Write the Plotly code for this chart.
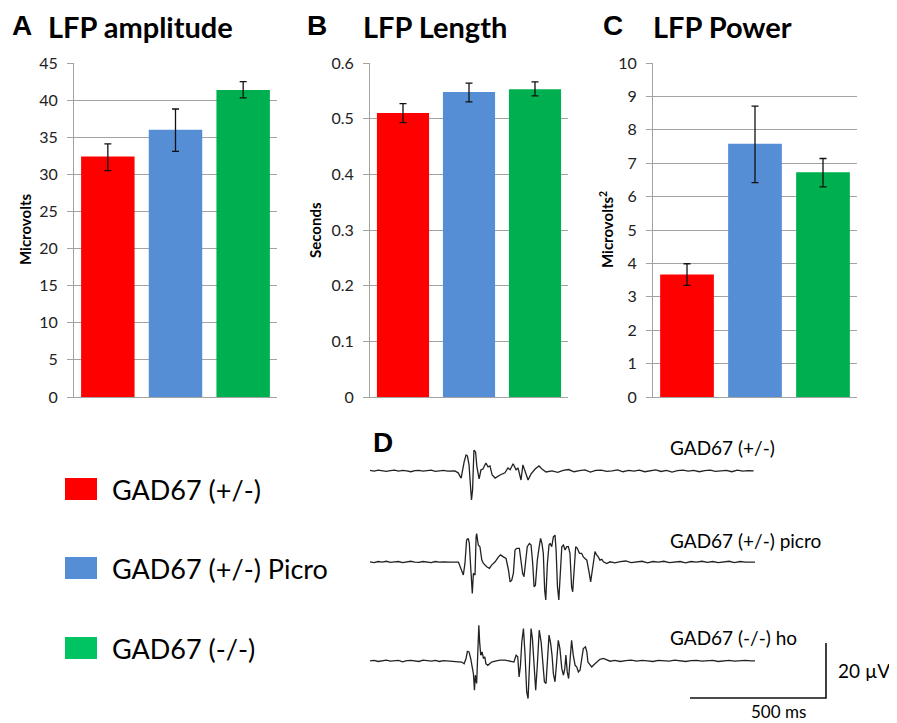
import plotly.graph_objects as go

# ---------------- data ----------------
groups = ["GAD67 (+/-)", "GAD67 (+/-) Picro", "GAD67 (-/-)"]
bar_colors = ["#FF0000", "#558ED5", "#00B050"]
legend_colors = ["#FF0000", "#558ED5", "#00C462"]

amp_vals = [32.4, 36.0, 41.35]
amp_err_plus = [1.7, 2.8, 1.15]
amp_err_minus = [1.9, 2.9, 1.05]

len_vals = [0.510, 0.548, 0.553]
len_err_plus = [0.017, 0.016, 0.013]
len_err_minus = [0.017, 0.018, 0.012]

pow_vals = [3.67, 7.58, 6.73]
pow_err_plus = [0.32, 1.13, 0.41]
pow_err_minus = [0.33, 1.16, 0.44]

amp_ticks = [0, 5, 10, 15, 20, 25, 30, 35, 40, 45]
len_ticks = [0, 0.1, 0.2, 0.3, 0.4, 0.5, 0.6]
len_tick_text = ["0", "0.1", "0.2", "0.3", "0.4", "0.5", "0.6"]
pow_ticks = [0, 1, 2, 3, 4, 5, 6, 7, 8, 9, 10]

# LFP example traces (time in ms, voltage in microvolts)
trace_labels = ["GAD67 (+/-)", "GAD67 (+/-) picro", "GAD67 (-/-) ho"]

het_t = [0, 15, 30, 45, 60, 75, 90, 105, 120, 135, 150, 165, 180, 195, 210, 225, 240, 255, 270, 285, 300,
         312, 324, 335, 346, 353, 358, 364, 368, 373, 377, 382, 388, 393, 401, 408, 415, 426, 434, 441, 449,
         460, 478, 496, 507, 515, 526, 537, 544, 555, 562, 573, 581, 592, 607, 621, 632, 647, 669,
         690, 710, 730, 750, 770, 790, 810, 830, 850, 870, 890, 910, 930, 950, 970, 990, 1010, 1030, 1050,
         1070, 1090, 1110, 1130, 1150, 1170, 1190, 1210, 1230, 1250, 1270, 1290, 1310, 1330, 1350, 1370,
         1390, 1410]
het_v = [0.2, -0.1, 0.3, 0.0, -0.2, 0.1, 0.3, -0.1, 0.2, 0.0, -0.3, 0.1, 0.2, -0.1, 0.0, 0.3, -0.2, 0.1, 0.2, -0.1, 0.0,
         0.0, -0.7, -2.6, 3.3, 5.8, 5.5, 2.2, -3.6, -10.6, -6.9, 7.6, 6.9, 1.5, -2.9, 0.4, 0.7, 2.9, 1.5, 1.8, -1.5,
         -2.6, -1.5, -0.7, 1.1, 0.4, 2.6, 0.4, 1.1, -3.3, 2.2, -0.7, -3.3, -1.1, 0.7, 1.8, 0.7, -0.4, 0.0,
         -0.5, 0.2, 0.5, -0.3, 0.1, 0.4, -0.4, 0.2, 0.3, -0.2, 0.0, 0.4, -0.3, 0.2, -0.1, 0.3, -0.3, 0.1, 0.4,
         -0.2, 0.2, -0.4, 0.1, 0.3, -0.1, 0.2, -0.3, 0.1, 0.3, -0.2, 0.0, 0.2, -0.3, 0.3, -0.1,
         0.1, 0.0]

picro_t = [0, 15, 30, 45, 60, 75, 90, 105, 120, 135, 150, 165, 180, 195, 210, 225, 240, 255, 270, 285, 294,
           325, 337, 343, 349, 355, 361, 365, 370, 376, 380, 386, 390, 392, 398, 404, 411, 417, 429, 439, 447,
           460, 472, 480, 490, 500, 509, 515, 521, 527, 533, 539, 549, 554, 561, 566, 573, 578, 586, 592,
           598, 603, 608, 615, 622, 627, 632, 637, 642, 646, 652, 658, 662, 668, 674, 680, 684, 689, 694,
           698, 705, 711, 717, 723, 729, 735, 741, 745, 750, 756, 762, 770, 778, 784, 790, 797, 806, 811,
           819, 827, 833, 839, 845, 852, 858, 870, 882,
           900, 920, 940, 960, 980, 1000, 1020, 1040, 1060, 1080, 1100, 1120, 1140, 1160, 1180, 1200, 1220,
           1240, 1260, 1280, 1300, 1320, 1340, 1360, 1380, 1400, 1415]
picro_v = [0.1, -0.2, 0.2, 0.0, 0.3, -0.1, 0.1, 0.2, -0.2, 0.1, 0.3, 0.0, -0.1, 0.2, 0.1, -0.2, 0.2, 0.0, 0.1, -0.1, 0.0,
           0.0, -2.9, -4.7, -0.5, 8.0, 8.6, 6.8, -1.7, -11.4, -4.1, -4.7, 9.2, 10.4, 6.2, 5.6, 0.7, -0.5, -1.7, -2.3, -1.1,
           0.1, 1.9, 2.6, 1.9, 1.3, -2.9, -7.2, -6.6, -4.1, 4.4, 5.0, 5.0, 1.9, -4.1, -5.3, 1.9, 5.6, 6.8, 6.2,
           -0.5, -9.0, -8.4, 0.7, 5.6, 8.6, 6.8, 3.2, -10.2, -13.8, -0.5, 6.2, 6.8, 5.6, 9.2, 9.8, 4.4, -9.0, -13.8,
           -5.9, 5.6, 6.2, 4.4, 5.6, 5.6, 3.2, -9.0, -10.8, -4.1, 5.6, 5.0, 3.2, 3.2, 1.9, 1.3, 0.7, -4.1, -7.2,
           -1.7, 3.8, 2.6, 1.9, 0.7, 1.0, 0.1, -0.5, 0.1,
           -0.3, 0.2, 0.4, -0.2, 0.1, 0.3, -0.3, 0.2, 0.0, 0.3, -0.2, 0.1, 0.2, -0.3, 0.2, 0.0, 0.3,
           -0.1, 0.2, -0.2, 0.1, 0.3, -0.2, 0.2, 0.0, 0.1, 0.0]

homo_t = [0, 15, 30, 45, 60, 75, 90, 105, 120, 135, 150, 165, 180, 195, 210, 225, 240, 255, 270, 285, 294,
          337, 346, 353, 358, 364, 370, 375, 380, 384, 387, 392, 396, 400, 403, 407, 412, 417, 422, 426, 433,
          439, 447, 460, 478, 496, 515, 529, 537, 543, 548, 553, 558, 564, 570, 576, 581, 586, 592, 597,
          603, 609, 615, 622, 629, 635, 641, 647, 652, 658, 664, 669, 674, 680, 686, 692, 698, 705, 711,
          716, 720, 725, 730, 735, 741, 747, 754, 760, 766, 772, 778, 784, 792, 797, 801, 809, 815, 821,
          833, 845, 858, 870, 882,
          900, 920, 940, 960, 980, 1000, 1020, 1040, 1060, 1080, 1100, 1120, 1140, 1160, 1180, 1200, 1220,
          1240, 1260, 1280, 1300, 1320, 1340, 1360, 1380, 1400, 1415]
homo_v = [0.0, 0.2, -0.2, 0.1, 0.3, -0.1, 0.0, 0.2, -0.3, 0.1, 0.2, 0.0, -0.2, 0.3, 0.1, -0.1, 0.2, -0.2, 0.1, 0.0, -0.1,
          -0.4, -1.0, 0.9, 3.5, 3.3, 0.9, -1.6, -4.6, -10.7, -5.2, -8.2, 4.5, 13.0, 6.9, 2.1, 3.3, 0.9, 1.5, -1.0, -1.6,
          -1.0, -0.4, -0.1, 0.3, 0.3, -0.1, -0.4, 2.1, 1.5, -5.8, -1.6, 6.9, 11.8, 2.1, -11.3, -13.7, -1.6, 11.8, 8.1,
          -4.0, -10.7, -1.6, 11.2, 6.9, -1.6, -7.6, -8.2, 0.9, 9.4, 6.3, 2.1, -4.6, -7.6, -0.4, 7.5, 4.5, -2.8, -5.2,
          -2.8, 2.1, -4.0, -6.4, 0.9, 7.5, 2.1, -1.6, -2.2, -4.0, -3.4, 0.9, 4.5, 5.1, 3.3, -0.4, -1.6, -2.2, -1.6,
          -0.4, 0.6, 0.9, 0.3, -0.1,
          0.2, -0.2, 0.1, 0.3, -0.1, 0.2, 0.0, -0.2, 0.2, 0.1, -0.1, 0.3, 0.0, -0.2, 0.1, 0.2, -0.1,
          0.1, 0.2, -0.2, 0.0, 0.2, -0.1, 0.1, 0.2, 0.0, 0.0]

scale_ms = 500
scale_uv = 20

# ---------------- layout helpers ----------------
# the page body adds an 8px margin, so the figure is 8px smaller and shifted
OFF = 8
W, H = 897 - OFF, 723 - OFF


def px(x):
    return (x - OFF) / W


def py(y):
    return 1 - (y - OFF) / H


trace_offsets = [69.2, 36.0, 0.0]   # vertical stacking of the example traces (uV)

fig = go.Figure()

panels = [
    (amp_vals, amp_err_plus, amp_err_minus, "x", "y"),
    (len_vals, len_err_plus, len_err_minus, "x2", "y2"),
    (pow_vals, pow_err_plus, pow_err_minus, "x3", "y3"),
]
for vals, ep, em, xa, ya in panels:
    fig.add_trace(go.Bar(
        x=groups, y=vals, marker=dict(color=bar_colors, line=dict(width=0)),
        error_y=dict(type="data", symmetric=False, array=ep, arrayminus=em,
                     color="#111111", thickness=1.3, width=3.5),
        xaxis=xa, yaxis=ya, showlegend=False, hoverinfo="skip"))

traces = [(het_t, het_v), (picro_t, picro_v), (homo_t, homo_v)]
for (tt, vv), off in zip(traces, trace_offsets):
    fig.add_trace(go.Scatter(
        x=tt, y=[v + off for v in vv], mode="lines",
        line=dict(color="#222222", width=1.3),
        xaxis="x4", yaxis="y4", showlegend=False, hoverinfo="skip"))

# scale bar (data coordinates)
sb_t = 1676
sb_v = -13.5
fig.add_trace(go.Scatter(
    x=[sb_t - scale_ms, sb_t, sb_t], y=[sb_v, sb_v, sb_v + scale_uv],
    mode="lines", line=dict(color="#111111", width=1.6),
    xaxis="x4", yaxis="y4", showlegend=False, hoverinfo="skip"))

grid_col = "#A3A3A3"
tick_font = dict(family="Lato, Open Sans, sans-serif", size=16, color="#222222")


def yax(ticks, anchor, ticktext=None):
    d = dict(domain=[py(397), py(63)], range=[0, ticks[-1]], tickvals=ticks,
             showgrid=True, gridcolor=grid_col, gridwidth=1, zeroline=False,
             showline=True, linecolor=grid_col, linewidth=1,
             ticks="outside", ticklen=6, tickcolor=grid_col, tickfont=tick_font,
             ticklabelstandoff=6, anchor=anchor, fixedrange=True, automargin=False)
    if ticktext:
        d["ticktext"] = ticktext
    return d


def xax(dom, anchor):
    return dict(domain=dom, showticklabels=False, ticks="", showgrid=False, zeroline=False,
                showline=True, linecolor=grid_col, linewidth=1, anchor=anchor, fixedrange=True,
                automargin=False)


fig.update_layout(
    width=W, height=H, margin=dict(l=0, r=0, t=0, b=0, autoexpand=False),
    paper_bgcolor="white", plot_bgcolor="white",
    bargap=0.21, showlegend=False,
    xaxis=xax([px(74), px(277)], "y"),
    yaxis=yax(amp_ticks, "x"),
    xaxis2=xax([px(370), px(568)], "y2"),
    yaxis2=yax(len_ticks, "x2", len_tick_text),
    xaxis3=xax([px(653), px(857)], "y3"),
    yaxis3=yax(pow_ticks, "x3"),
    xaxis4=dict(domain=[px(370), px(860)], range=[0, 1801], visible=False, anchor="y4",
                fixedrange=True, automargin=False),
    yaxis4=dict(domain=[py(723), py(430)], range=[-22.6, 84.1], visible=False, anchor="x4",
                fixedrange=True, automargin=False),
)

ann = []
letter_font = dict(family="Liberation Sans, Arial, sans-serif", size=28, color="black")
title_font = dict(family="Lato, sans-serif", size=29, color="black")
for letter, lx, title, tx in [("A", 11, "LFP amplitude", 47), ("B", 306, "LFP Length", 362),
                              ("C", 602, "LFP Power", 652)]:
    ann.append(dict(x=px(lx), y=py(9), xref="paper", yref="paper", text="<b>%s</b>" % letter,
                    showarrow=False, xanchor="left", yanchor="top", font=letter_font,
                    borderpad=0))
    ann.append(dict(x=px(tx), y=py(8), xref="paper", yref="paper", text="<b>%s</b>" % title,
                    showarrow=False, xanchor="left", yanchor="top", font=title_font,
                    borderpad=0))

axis_title_font = dict(family="Lato, sans-serif", size=15, color="black")
for t, x in [("Microvolts", 25), ("Seconds", 315), ("Microvolts<sup>2</sup>", 607)]:
    ann.append(dict(x=px(x), y=py(230), xref="paper", yref="paper", text="<b>%s</b>" % t,
                    textangle=-90, showarrow=False, xanchor="center", yanchor="middle",
                    font=axis_title_font))

# panel D
ann.append(dict(x=px(371), y=py(442), xref="paper", yref="paper", text="<b>D</b>",
                showarrow=False, xanchor="left", yanchor="middle", font=letter_font))
lab_font = dict(family="Lato, sans-serif", size=19, color="black")
for lab, v in zip(trace_labels, [77.9, 44.0, 8.4]):
    ann.append(dict(x=1095, y=v, xref="x4", yref="y4", text=lab, showarrow=False,
                    xanchor="left", yanchor="middle", font=lab_font))
ann.append(dict(x=sb_t + 35, y=sb_v + scale_uv / 2, xref="x4", yref="y4",
                text="%d \u00b5V" % scale_uv, showarrow=False, xanchor="left", yanchor="middle",
                font=lab_font))
ann.append(dict(x=px(778), y=py(723), xref="paper", yref="paper",
                text="%d ms" % scale_ms, showarrow=False, xanchor="center", yanchor="bottom",
                borderpad=0, font=dict(family="Lato, sans-serif", size=17, color="black")))

# legend (drawn)
shapes = []
leg_font = dict(family="Lato, sans-serif", size=27, color="black")
for lab, col, yc in zip(groups, legend_colors, [489, 568, 648]):
    shapes.append(dict(type="rect", xref="paper", yref="paper", x0=px(65), x1=px(97),
                       y0=py(yc + 11), y1=py(yc - 11), fillcolor=col, line=dict(width=0)))
    ann.append(dict(x=px(110), y=py(yc), xref="paper", yref="paper", text=lab, showarrow=False,
                    xanchor="left", yanchor="middle", font=leg_font))

fig.update_layout(annotations=ann, shapes=shapes)
fig.write_html("out.html")
